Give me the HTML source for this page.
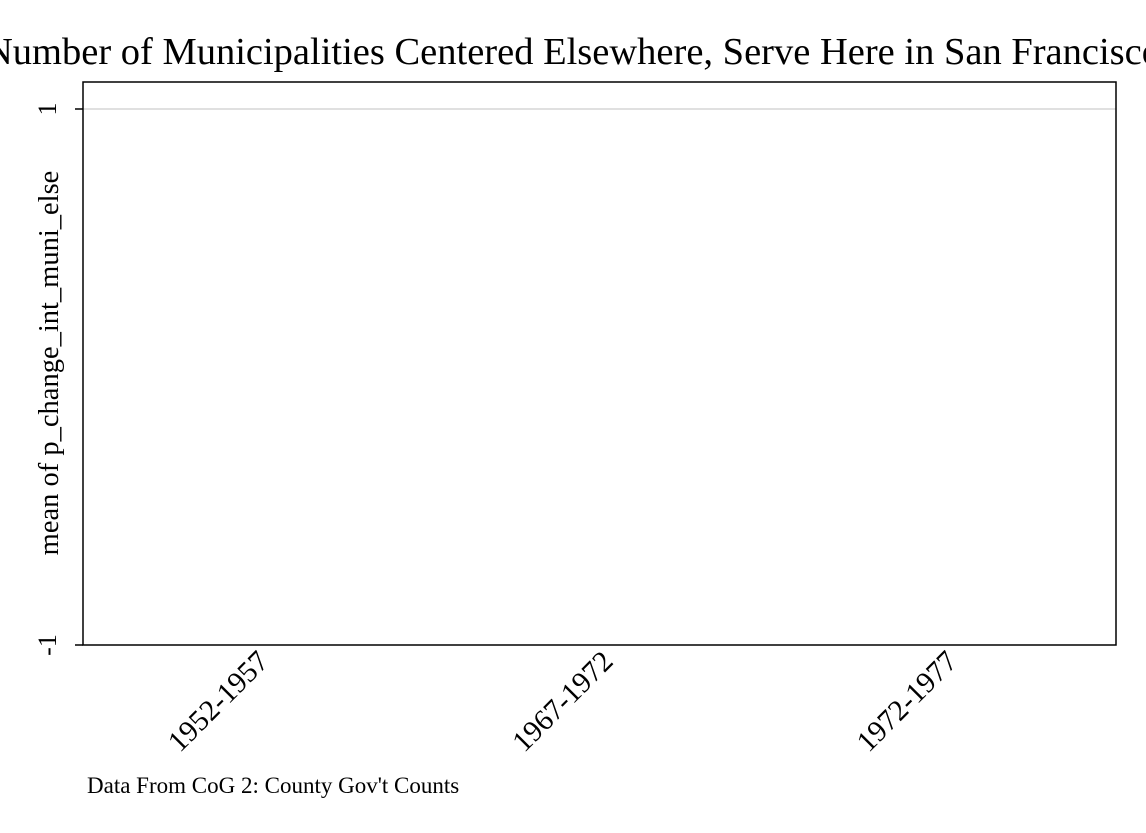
<!DOCTYPE html>
<html><head><meta charset="utf-8">
<style>
html,body{margin:0;padding:0;background:#fff;}
svg{display:block;font-family:"Liberation Serif",serif;}
</style></head>
<body>
<svg id="chart" width="1146" height="833" viewBox="0 0 1146 833">
  <rect x="0" y="0" width="1146" height="833" fill="#fff"/>
  <text x="573" y="64" text-anchor="middle" font-size="38.5" fill="#000">Number of Municipalities Centered Elsewhere, Serve Here in San Francisco</text>
  <g id="grid"></g>
  <g id="bars"></g>
  <rect x="83" y="82" width="1033" height="563" fill="none" stroke="#000" stroke-width="1.5"/>
  <g id="yticks"></g>
  <g id="xticks"></g>
  <text transform="translate(58,363) rotate(-90)" text-anchor="middle" font-size="28.5" fill="#000">mean of p_change_int_muni_else</text>
  <text x="87" y="793" font-size="23" fill="#000">Data From CoG 2: County Gov't Counts</text>
</svg>
<script>
const categories = ["1952-1957", "1967-1972", "1972-1977"];
const values = [0, 0, 0];
const yTickValues = [-1, 1];
const yTickLabels = ["-1", "1"];

const plotL = 83, plotR = 1116, yTopPx = 109, yBotPx = 645;
const yMin = -1, yMax = 1;
function yScale(v){ return yBotPx - (v - yMin) / (yMax - yMin) * (yBotPx - yTopPx); }
const groupW = (plotR - plotL) / categories.length;
function xScale(i){ return plotL + groupW * (i + 0.5); }

const NS = "http://www.w3.org/2000/svg";
const grid = document.getElementById("grid");
const yt = document.getElementById("yticks");
yTickValues.forEach((v, i) => {
  const y = yScale(v);
  if (v !== yMin) {
    const g = document.createElementNS(NS, "line");
    g.setAttribute("x1", plotL); g.setAttribute("x2", plotR);
    g.setAttribute("y1", y); g.setAttribute("y2", y);
    g.setAttribute("stroke", "#e0e0e0"); g.setAttribute("stroke-width", "2");
    
    
    grid.appendChild(g);
  }
  const t = document.createElementNS(NS, "line");
  t.setAttribute("x1", plotL - 8); t.setAttribute("x2", plotL);
  t.setAttribute("y1", y); t.setAttribute("y2", y);
  t.setAttribute("stroke", "#000"); t.setAttribute("stroke-width", "1.5");
  
  
  yt.appendChild(t);
  const lb = document.createElementNS(NS, "text");
  lb.setAttribute("transform", "translate(56," + y + ") rotate(-90)");
  lb.setAttribute("text-anchor", "middle");
  lb.setAttribute("font-size", "26");
  lb.textContent = yTickLabels[i];
  
  
  yt.appendChild(lb);
});

const bars = document.getElementById("bars");
const xt = document.getElementById("xticks");
categories.forEach((c, i) => {
  const cx = xScale(i);
  const bw = groupW * 0.7;
  const y0 = yScale(0), y1 = yScale(values[i]);
  const r = document.createElementNS(NS, "rect");
  r.setAttribute("x", cx - bw / 2);
  r.setAttribute("y", Math.min(y0, y1));
  r.setAttribute("width", bw);
  r.setAttribute("height", Math.abs(y1 - y0));
  r.setAttribute("fill", "#1a476f");
  
  
  bars.appendChild(r);
  const lb = document.createElementNS(NS, "text");
  lb.setAttribute("transform", "translate(" + (cx + 15) + ",663) rotate(-45)");
  lb.setAttribute("text-anchor", "end");
  lb.setAttribute("font-size", "29.5");
  lb.textContent = c;
  
  
  xt.appendChild(lb);
});
</script>
</body></html>
